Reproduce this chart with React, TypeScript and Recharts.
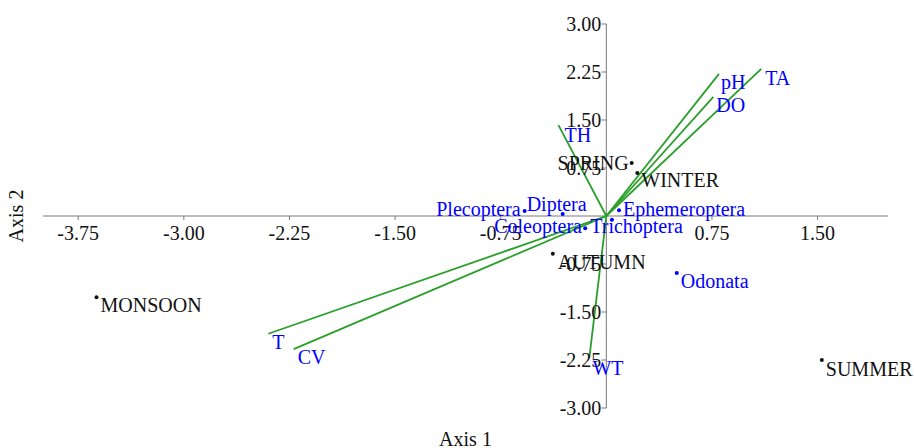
import React from 'react';
import {
  ScatterChart, Scatter, XAxis, YAxis, ReferenceLine, ReferenceDot
} from 'recharts';

// Tick values on the crossing axes (zero is not labelled)
const xTicks = [-3.75, -3.0, -2.25, -1.5, -0.75, 0.75, 1.5];
const yTicks = [3.0, 2.25, 1.5, 0.75, -0.75, -1.5, -2.25, -3.0];

// Seasons (row scores)
const siteNames = ['MONSOON', 'SPRING', 'WINTER', 'AUTUMN', 'SUMMER'];
const siteX = [-3.62, 0.18, 0.22, -0.38, 1.53];
const siteY = [-1.27, 0.83, 0.67, -0.59, -2.25];

// Taxa (column scores)
const taxaNames = ['Plecoptera', 'Diptera', 'Trichoptera', 'Coleoptera', 'Ephemeroptera', 'Odonata'];
const taxaX = [-0.58, -0.31, -0.15, 0.04, 0.09, 0.5];
const taxaY = [0.08, 0.03, -0.19, -0.06, 0.09, -0.89];

// Environmental vectors
const vectorNames = ['TH', 'pH', 'DO', 'TA', 'T', 'CV', 'WT'];
const vectorX = [-0.34, 0.8, 0.76, 1.1, -2.4, -2.22, -0.12];
const vectorY = [1.42, 2.22, 1.86, 2.3, -1.84, -2.08, -2.2];

const sites = siteNames.map((name, i) => ({ name, x: siteX[i], y: siteY[i] }));
const taxa = taxaNames.map((name, i) => ({ name, x: taxaX[i], y: taxaY[i] }));
const vectors = vectorNames.map((name, i) => ({ name, x: vectorX[i], y: vectorY[i] }));

// label placement relative to the point: [dx, dy, anchor]
const DEFAULT_PLACE: [number, number, string] = [4, 15, 'start'];
const labelPlace: Record<string, [number, number, string]> = {
  SPRING: [-3, 7, 'end'],
  WINTER: [4, 14, 'start'],
  AUTUMN: [5, 15, 'start'],
  SUMMER: [4, 16, 'start'],
  Plecoptera: [-4, 5, 'end'],
  Diptera: [-6, -3, 'middle'],
  Trichoptera: [5, 5, 'start'],
  Coleoptera: [-30, 13, 'end'],
  Ephemeroptera: [4, 6, 'start'],
  TH: [6, 17, 'start'],
  pH: [2, 15, 'start'],
  DO: [3, 15, 'start'],
  TA: [4, 16, 'start'],
  WT: [3, 18, 'start'],
};

const FONT = '"Liberation Serif", "Times New Roman", serif';
const GREEN = '#2a9f2a';
const BLUE = '#0000ff';
const AXIS = '#7a7a7a';

const makeShape = (color: string, dot: boolean) => (props: any) => {
  const { cx, cy, payload } = props;
  const [dx, dy, anchor] = labelPlace[payload.name] || DEFAULT_PLACE;
  return (
    <g>
      {dot && <circle cx={cx} cy={cy} r={2} fill={color} />}
      <text
        x={cx + dx}
        y={cy + dy}
        textAnchor={anchor as any}
        fill={color}
        style={{ fontFamily: FONT, fontSize: 20 }}
      >
        {payload.name}
      </text>
    </g>
  );
};

const XTick = (value: number) => (props: any) => {
  const { cx, cy } = props;
  return (
    <g>
      <line x1={cx} y1={cy} x2={cx} y2={cy + 4} stroke={AXIS} strokeWidth={1} />
      <text x={cx} y={cy + 24} textAnchor="middle" fill="#111" style={{ fontFamily: FONT, fontSize: 20 }}>
        {value.toFixed(2)}
      </text>
    </g>
  );
};

const YTick = (value: number) => (props: any) => {
  const { cx, cy } = props;
  return (
    <g>
      <line x1={cx - 5} y1={cy} x2={cx} y2={cy} stroke={AXIS} strokeWidth={1} />
      <text x={cx - 5} y={cy + 7} textAnchor="end" fill="#111" style={{ fontFamily: FONT, fontSize: 20 }}>
        {value.toFixed(2)}
      </text>
    </g>
  );
};

export default function App() {
  return (
    <div style={{ position: 'absolute', left: 0, top: 0, background: '#fff' }}>
      <ScatterChart width={914} height={448} margin={{ top: 24, right: 26, left: 0, bottom: 0 }}>
        <XAxis
          type="number"
          dataKey="x"
          domain={[-4, 2]}
          height={40}
          axisLine={false}
          tickLine={false}
          tick={false}
          label={{ value: 'Axis 1', position: 'insideBottom', offset: 2, fill: '#111', style: { fontFamily: FONT, fontSize: 20 } }}
        />
        <YAxis
          type="number"
          dataKey="y"
          domain={[-3, 3]}
          width={43}
          axisLine={false}
          tickLine={false}
          tick={false}
          label={{ value: 'Axis 2', angle: -90, position: 'insideLeft', offset: 16, fill: '#111', style: { fontFamily: FONT, fontSize: 20, textAnchor: 'middle' } }}
        />
        <ReferenceLine y={0} stroke={AXIS} strokeWidth={1} />
        <ReferenceLine x={0} stroke={AXIS} strokeWidth={1} />
        {xTicks.map((v) => (
          <ReferenceDot key={`xt${v}`} x={v} y={0} r={0} shape={XTick(v)} />
        ))}
        {yTicks.map((v) => (
          <ReferenceDot key={`yt${v}`} x={0} y={v} r={0} shape={YTick(v)} />
        ))}
        {vectors.map((v) => (
          <ReferenceLine
            key={`v${v.name}`}
            segment={[{ x: 0, y: 0 }, { x: v.x, y: v.y }]}
            stroke={GREEN}
            strokeWidth={1.8}
          />
        ))}
        <Scatter data={vectors} shape={makeShape(BLUE, false)} isAnimationActive={false} />
        <Scatter data={sites} shape={makeShape('#111', true)} isAnimationActive={false} />
        <Scatter data={taxa} shape={makeShape(BLUE, true)} isAnimationActive={false} />
      </ScatterChart>
    </div>
  );
}
